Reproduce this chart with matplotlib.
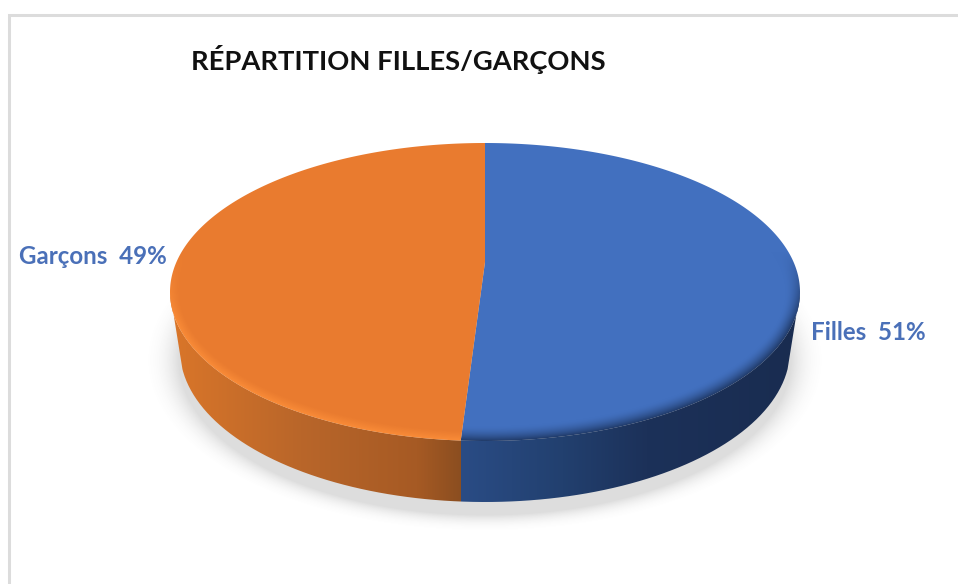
import numpy as np
import matplotlib
matplotlib.use("Agg")
import matplotlib.pyplot as plt
from matplotlib.path import Path
from matplotlib.patches import PathPatch, Rectangle
from matplotlib.colors import to_rgb

# ---- data
categories = ["Filles", "Garçons"]
shares = [51, 49]
title_text = "RÉPARTITION FILLES/GARÇONS"

# ---- styles
face_colors = ["#4270BF", "#E97B2F"]
rim_colors = ["#203A68", "#FA8C38"]
wall_stops = [
    [(0.00, "#2A4C85"), (0.30, "#22406F"), (0.55, "#1C3159"), (1.00, "#192C50")],
    [(0.00, "#DA7629"), (0.45, "#B9662A"), (0.85, "#A65A24"), (1.00, "#8B4E20")],
]
label_color = "#4A70B8"
label_pos = [(926, 332), (167, 257)]

W, H = 958, 584
plt.rcParams["font.family"] = ["Lato", "DejaVu Sans"]
fig = plt.figure(figsize=(W / 100, H / 100), dpi=100, facecolor="white")
ax = fig.add_axes([0, 0, 1, 1])
ax.set_xlim(0, W)
ax.set_ylim(H, 0)
ax.axis("off")

# frame
ax.add_patch(Rectangle((9, 15), W + 10, H + 10, fc="white", ec="#DCDCDC", lw=2.2))

# geometry of the disc
cx, cy_top, rx, ry = 485.0, 292.0, 315.0, 149.0
apex_y = 262.0
cy_low, rx_low, ry_low = 350.0, 305.0, 152.0

# circle -> perspective ellipse
top_y, bot_y = cy_top - ry, cy_top + ry
c = (top_y + bot_y - 2 * apex_y) / (bot_y - top_y) * -1
a = (bot_y * (1 + c) - apex_y)
k = rx * np.sqrt(1 - c * c)


def project(theta):
    u, v = np.sin(theta), -np.cos(theta)
    d = 1 + c * v
    return cx + k * u / d, (a * v + apex_y) / d


yy, xx = np.mgrid[0:H, 0:W] + 0.5
ext = (0, W, H, 0)

# soft shadow
sr = np.sqrt(((xx - cx) / 306.0) ** 2 + ((yy - 360.0) / 155.0) ** 2)
sdist = (sr - 1) * 155.0 / np.clip(np.hypot((yy - 360) / 155, (xx - cx) / 306 * 155 / 306 * 2), 0.5, None)
salpha = np.clip(1 - sdist / 16.0, 0, 1) ** 2 * 0.24
shadow = np.zeros((H, W, 4))
shadow[..., :3] = 0.45
shadow[..., 3] = salpha
ax.imshow(shadow, extent=ext, aspect="auto", zorder=1, interpolation="bilinear")

# boundaries of the slices, from the shares
fr = np.cumsum([0] + shares) / float(sum(shares))
bounds = fr * 2 * np.pi
split_x = project(bounds[1])[0]

# side wall
t = np.linspace(0, np.pi, 200)
wall_x = np.r_[cx + rx, cx + rx_low * np.cos(t[8:-8]), cx - rx]
wall_y = np.r_[cy_top, cy_low + ry_low * np.sin(t[8:-8]), cy_top]
upper_t = np.linspace(np.pi, 0, 100)
wall_x = np.r_[wall_x, cx + rx * np.cos(upper_t)]
wall_y = np.r_[wall_y, cy_top + ry * np.sin(upper_t)]
wall_path = Path(np.c_[wall_x, wall_y], closed=False)

x_col = np.arange(W) + 0.5
wall_img = np.ones((1, W, 3))
for i, stops in enumerate(wall_stops):
    pos = [s[0] for s in stops]
    rgb = np.array([to_rgb(s[1]) for s in stops])
    if i == 0:
        f = (x_col - split_x) / (cx + rx - split_x)
        sel = x_col >= split_x
    else:
        f = (x_col - (cx - rx)) / (split_x - (cx - rx))
        sel = x_col < split_x
    for ch in range(3):
        wall_img[0, sel, ch] = np.interp(f[sel], pos, rgb[:, ch])
im = ax.imshow(wall_img, extent=ext, aspect="auto", zorder=2, interpolation="nearest")
im.set_clip_path(PathPatch(wall_path, transform=ax.transData))

# top face with bevel
dx, dy = xx - cx, yy - cy_top
r = np.sqrt((dx / rx) ** 2 + (dy / ry) ** 2)
grad = np.hypot(dx / rx ** 2, dy / ry ** 2) / np.maximum(r, 1e-6)
edge = (1 - r) / np.maximum(grad, 1e-6)
lower = np.clip((dy + 40) / 70.0, 0, 1)
widths = [15.0, 10.0]
powers = [1.7, 1.2]
for i in range(2):
    rim = np.clip(1 - edge / widths[i], 0, 1) ** powers[i] * lower
    base, rimc = np.array(to_rgb(face_colors[i])), np.array(to_rgb(rim_colors[i]))
    img = base[None, None, :] * (1 - rim[..., None]) + rimc[None, None, :] * rim[..., None]
    th = np.linspace(bounds[i], bounds[i + 1], 240)
    px, py = project(th)
    verts = np.c_[np.r_[cx, px, cx], np.r_[apex_y, py, apex_y]]
    wedge = Path(verts, closed=True)
    im = ax.imshow(img, extent=ext, aspect="auto", zorder=3, interpolation="bilinear")
    im.set_clip_path(PathPatch(wedge, transform=ax.transData))

# data labels
for name, val, (lx, ly) in zip(categories, shares, label_pos):
    ax.text(lx, ly, f"{name}  {val}%", color=label_color, fontsize=17.4, fontweight="bold",
            ha="right", va="center", zorder=5)

# title
ax.text(191, 59, title_text, color="#111111", fontsize=19.7, fontweight="bold",
        ha="left", va="center", zorder=5)

ax.set_xlim(0, W)
ax.set_ylim(H, 0)
fig.savefig("out.png", dpi=100, facecolor="white")
